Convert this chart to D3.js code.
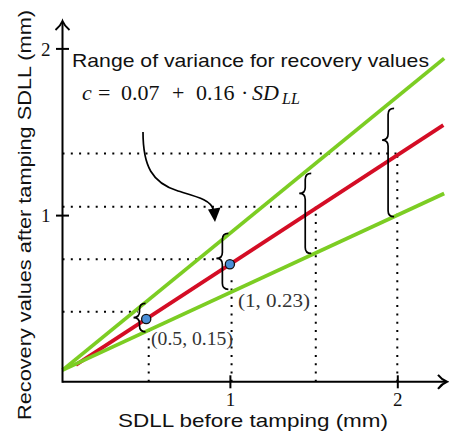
<!DOCTYPE html>
<html>
<head>
<meta charset="utf-8">
<script src="https://cdn.jsdelivr.net/npm/d3@7"></script>
<style>
  html, body { margin: 0; padding: 0; background: #fff; }
  svg { display: block; }
</style>
</head>
<body>
<svg id="chart" width="449" height="433"></svg>
<script>
// Line end points (SDLL before tamping, mm) and their recovery values (mm)
const lineX = [0, 2.28];
const upperBound = [0.07, 1.94];
const lowerBound = [0.07, 1.13];
const recoveryX = [0.08, 2.275];
const recoveryY = [0.102, 1.54];

// Marked examples: SDLL and variance c = 0.07 + 0.16 * SDLL
const sampleSD = [0.5, 1];
const sampleC = [0.15, 0.23];
const sampleLabel = ["(0.5, 0.15)", "(1, 0.23)"];

// Dotted guides: vertical (x, top) and horizontal (level, right end)
const guideX = [0.515, 1.01, 1.513, 2.0];
const guideTop = [0.33, 0.64, 1.05, 1.37];
const levelY = [0.42, 0.735, 1.05, 1.37];
const levelEnd = [0.45, 0.915, 1.42, 2.0];

// Braces marking the band width at several SDLL values
const braceX = [0.46, 0.955, 1.45, 1.945];
const braceTop = [0.47, 0.89, 1.25, 1.64];
const braceBottom = [0.30, 0.555, 0.77, 0.99];
const braceTip = [0.385, 0.74, 1.13, 1.45];

const tickValues = [1, 2];
const titleText = "Range of variance for recovery values";
const xLabel = "SDLL before tamping (mm)";
const yLabel = "Recovery values after tamping SDLL (mm)";

const svg = d3.select("#chart");
const x = d3.scaleLinear().domain([0, 2]).range([62.5, 397.3]);
const y = d3.scaleLinear().domain([0, 2]).range([381.8, 48.4]);

const GREEN = "#7ccd23";
const RED = "#d40d25";
const sans = "'Liberation Sans', Arial, sans-serif";
const serif = "'Liberation Serif', 'Times New Roman', serif";

const line = d3.line().x(d => x(d[0])).y(d => y(d[1]));
const recoveryAt = sd => recoveryY[0] + (recoveryY[1] - recoveryY[0]) * (sd - recoveryX[0]) / (recoveryX[1] - recoveryX[0]);

// dotted guides
const dotted = svg.append("g")
  .attr("stroke", "#000").attr("stroke-width", 2)
  .attr("stroke-dasharray", "2,6.3").attr("fill", "none");
levelY.forEach((v, i) => {
  dotted.append("path").attr("d", line([[0, v], [levelEnd[i], v]]));
});
guideX.forEach((v, i) => {
  dotted.append("path").attr("d", line([[v, 0], [v, guideTop[i]]]));
});

// recovery line and variance bounds
svg.append("path").attr("d", line(d3.zip(recoveryX, recoveryY)))
  .attr("stroke", RED).attr("stroke-width", 3.8).attr("fill", "none");
svg.append("path").attr("d", line(d3.zip(lineX, upperBound)))
  .attr("stroke", GREEN).attr("stroke-width", 3.8).attr("fill", "none");
svg.append("path").attr("d", line(d3.zip(lineX, lowerBound)))
  .attr("stroke", GREEN).attr("stroke-width", 3.8).attr("fill", "none");

// braces
function bracePath(xv, top, bottom, tip) {
  const X = x(xv), yt = y(top), yb = y(bottom), yc = y(tip), w = 6;
  return `M${X + w},${yt} Q${X},${yt} ${X},${yt + w} L${X},${yc - w}` +
         ` Q${X},${yc} ${X - w},${yc} Q${X},${yc} ${X},${yc + w}` +
         ` L${X},${yb - w} Q${X},${yb} ${X + w},${yb}`;
}
braceX.forEach((v, i) => {
  svg.append("path").attr("d", bracePath(v, braceTop[i], braceBottom[i], braceTip[i]))
    .attr("stroke", "#000").attr("stroke-width", 1.7).attr("fill", "none");
});

// sample points
svg.selectAll("circle.sample").data(sampleSD).join("circle")
  .attr("class", "sample")
  .attr("cx", d => x(d)).attr("cy", d => y(recoveryAt(d)))
  .attr("r", 4.6).attr("fill", "#4a8fd8").attr("stroke", "#111").attr("stroke-width", 1.3);

// sample labels
svg.append("text").attr("x", 151).attr("y", 345)
  .attr("font-family", serif).attr("font-size", 18).attr("fill", "#333")
  .attr("textLength", 82).attr("lengthAdjust", "spacingAndGlyphs")
  .text(sampleLabel[0]);
svg.append("text").attr("x", 238).attr("y", 307)
  .attr("font-family", serif).attr("font-size", 18).attr("fill", "#333")
  .attr("textLength", 72).attr("lengthAdjust", "spacingAndGlyphs")
  .text(sampleLabel[1]);

// axes with arrow heads
const axisG = svg.append("g").attr("stroke", "#000").attr("stroke-width", 2).attr("fill", "none");
axisG.append("path").attr("d", `M${x(0)},${y(0)} L446,${y(0)}`);
axisG.append("path").attr("d", `M${x(0)},${y(0) + 1} L${x(0)},22`);
axisG.append("path").attr("d", `M438,${y(0) - 7} Q442,${y(0) - 2} 447,${y(0)} Q442,${y(0) + 2} 438,${y(0) + 7}`);
axisG.append("path").attr("d", `M${x(0) - 7},30 Q${x(0) - 2},26 ${x(0)},21 Q${x(0) + 2},26 ${x(0) + 7},30`);

const xAxis = svg.append("g").attr("transform", `translate(0,${y(0)})`)
  .call(d3.axisBottom(x).tickValues(tickValues).tickSize(6.5).tickFormat(d3.format("d")));
xAxis.select(".domain").remove();
xAxis.selectAll(".tick line").attr("y1", -6.5).attr("y2", 6.5).attr("stroke", "#000").attr("stroke-width", 2);
xAxis.selectAll(".tick text").attr("y", 24).attr("dy", 0)
  .attr("font-family", serif).attr("font-size", 19).attr("fill", "#111");

const yAxis = svg.append("g").attr("transform", `translate(${x(0)},0)`)
  .call(d3.axisLeft(y).tickValues(tickValues).tickSize(6.5).tickFormat(d3.format("d")));
yAxis.select(".domain").remove();
yAxis.selectAll(".tick line").attr("x1", -6.5).attr("x2", 6.5).attr("stroke", "#000").attr("stroke-width", 2);
yAxis.selectAll(".tick text").attr("x", -12).attr("dy", "0.35em")
  .attr("font-family", serif).attr("font-size", 19).attr("fill", "#111");

// axis titles
svg.append("text").attr("x", 118).attr("y", 427)
  .attr("font-family", sans).attr("font-size", 19).attr("fill", "#111")
  .attr("textLength", 270).attr("lengthAdjust", "spacingAndGlyphs")
  .text(xLabel);
svg.append("text").attr("transform", "translate(31,420) rotate(-90)")
  .attr("font-family", sans).attr("font-size", 19).attr("fill", "#111")
  .attr("textLength", 410).attr("lengthAdjust", "spacingAndGlyphs")
  .text(yLabel);

// annotation title and formula
svg.append("text").attr("x", 72).attr("y", 67)
  .attr("font-family", sans).attr("font-size", 19).attr("fill", "#111")
  .attr("textLength", 357).attr("lengthAdjust", "spacingAndGlyphs")
  .text(titleText);

const formula = svg.append("text").attr("y", 100)
  .attr("font-family", serif).attr("font-size", 22).attr("fill", "#111");
formula.append("tspan").attr("x", 82).attr("font-style", "italic").text("c");
formula.append("tspan").attr("x", 98).text("=");
formula.append("tspan").attr("x", 121).text(d3.format(".2f")(0.07));
formula.append("tspan").attr("x", 172).text("+");
formula.append("tspan").attr("x", 196).text(d3.format(".2f")(0.16));
formula.append("tspan").attr("x", 241).text("·");
formula.append("tspan").attr("x", 252).attr("font-style", "italic").text("SD");
formula.append("tspan").attr("x", 282).attr("font-style", "italic").attr("font-size", 16).attr("dy", 4).text("LL");

// curved pointer to the band
svg.append("path")
  .attr("d", "M143,132 C143,166 152,183 178,191 C198,197 211,200 213.5,210")
  .attr("stroke", "#000").attr("stroke-width", 1.7).attr("fill", "none");
svg.append("path")
  .attr("d", "M208,209.5 L220.5,207.5 L215,222 Z")
  .attr("fill", "#000");
</script>
</body>
</html>
